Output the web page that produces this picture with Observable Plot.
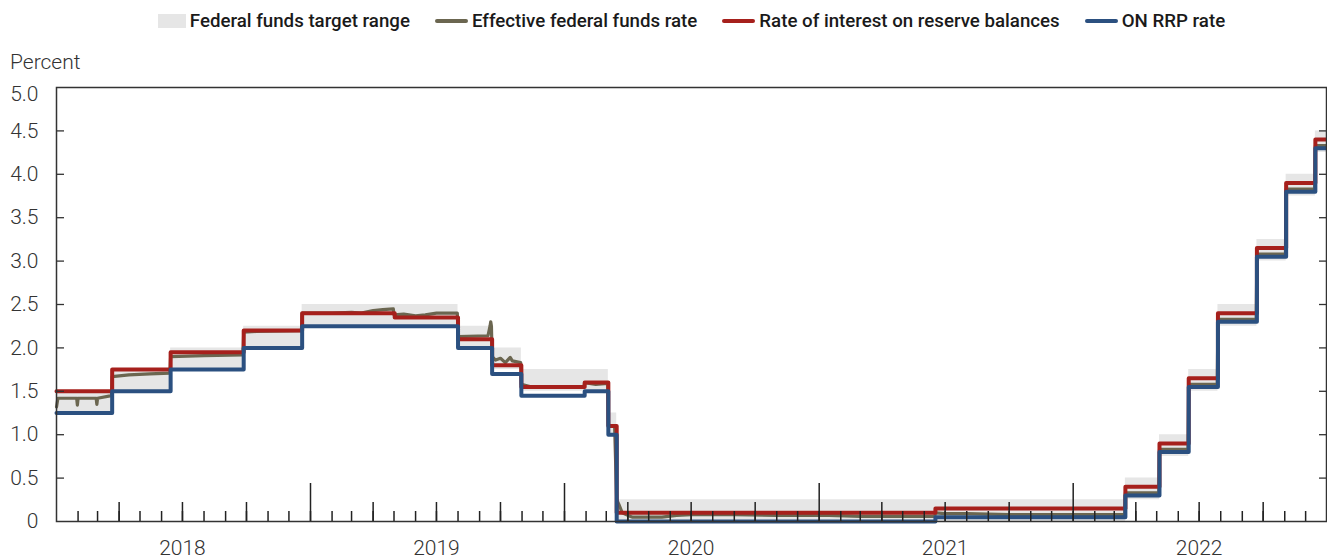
<!DOCTYPE html>
<html><head><meta charset="utf-8">
<script src="https://cdn.jsdelivr.net/npm/d3@7"></script>
<script src="https://cdn.jsdelivr.net/npm/@observablehq/plot@0.6"></script>
<style>
body{margin:0;background:#fff;font-family:Roboto,sans-serif;}
#wrap{position:relative;width:1327px;height:560px;overflow:hidden;}
#legend{height:42px;display:flex;justify-content:center;align-items:center;padding-left:56px;gap:25px;font-size:18.7px;font-weight:500;color:#1a1a1a;}
.item{display:flex;align-items:center;gap:4px;}
.sw-rect{width:28px;height:14px;background:#e6e6e6;}
.sw-line{width:33px;height:4px;border-radius:2px;}
#ylabel{position:absolute;left:10px;top:51px;font-size:21px;font-weight:300;color:#333;line-height:22px;}
#chart svg{display:block;overflow:visible;}
</style></head>
<body>
<div id="wrap">
  <div id="legend"></div>
  <div id="ylabel">Percent</div>
  <div id="chart"></div>
</div>
<script>
// ---- Data ----
const seriesNames = ["Federal funds target range","Effective federal funds rate","Rate of interest on reserve balances","ON RRP rate"];
const seriesColors = ["#e6e6e6","#6b6650","#a6201c","#2b5080"];

const rangeDates = ["2018-01-01","2018-03-22","2018-06-14","2018-09-27","2018-12-20","2019-08-01","2019-09-19","2019-10-31","2020-03-04","2020-03-16","2022-03-17","2022-05-05","2022-06-16","2022-07-28","2022-09-22","2022-11-03","2022-12-15","2022-12-31"];
const rangeLower = [1.25,1.5,1.75,2.0,2.25,2.0,1.75,1.5,1.0,0,0.25,0.75,1.5,2.25,3.0,3.75,4.25,4.25];
const rangeUpper = [1.5,1.75,2.0,2.25,2.5,2.25,2.0,1.75,1.25,0.25,0.5,1.0,1.75,2.5,3.25,4.0,4.5,4.5];

const iorbDates = ["2018-01-01","2018-03-22","2018-06-14","2018-09-27","2018-12-20","2019-05-02","2019-08-01","2019-09-19","2019-10-31","2020-01-30","2020-03-04","2020-03-16","2021-06-17","2022-03-17","2022-05-05","2022-06-16","2022-07-28","2022-09-22","2022-11-03","2022-12-15","2022-12-31"];
const iorbValues = [1.5,1.75,1.95,2.2,2.4,2.35,2.1,1.8,1.55,1.6,1.1,0.1,0.15,0.4,0.9,1.65,2.4,3.15,3.9,4.4,4.4];

const rrpDates = ["2018-01-01","2018-03-22","2018-06-14","2018-09-27","2018-12-20","2019-08-01","2019-09-19","2019-10-31","2020-01-30","2020-03-04","2020-03-16","2021-06-17","2022-03-17","2022-05-05","2022-06-16","2022-07-28","2022-09-22","2022-11-03","2022-12-15","2022-12-31"];
const rrpValues = [1.25,1.5,1.75,2.0,2.25,2.0,1.7,1.45,1.5,1.0,0,0.05,0.3,0.8,1.55,2.3,3.05,3.8,4.3,4.3];

const effrDates = ["2018-01-01","2018-01-03","2018-01-30","2018-01-31","2018-02-01","2018-02-27","2018-02-28","2018-03-01","2018-03-21","2018-03-22","2018-04-15","2018-05-15","2018-06-13","2018-06-14","2018-08-01","2018-09-26","2018-09-27","2018-10-15","2018-12-19","2018-12-20","2019-02-01","2019-03-01","2019-03-15","2019-04-01","2019-04-15","2019-04-30","2019-05-01","2019-05-15","2019-06-01","2019-06-15","2019-07-01","2019-07-15","2019-07-31","2019-08-01","2019-09-13","2019-09-16","2019-09-17","2019-09-18","2019-09-19","2019-09-24","2019-10-01","2019-10-08","2019-10-15","2019-10-18","2019-10-30","2019-10-31","2019-11-15","2019-12-31","2020-01-29","2020-01-30","2020-02-15","2020-03-03","2020-03-04","2020-03-13","2020-03-16","2020-03-19","2020-03-24","2020-04-01","2020-04-08","2020-05-01","2020-05-20","2020-06-10","2020-07-01","2020-09-01","2020-11-01","2020-12-15","2021-01-15","2021-03-01","2021-04-01","2021-05-01","2021-06-16","2021-06-17","2021-07-01","2021-08-01","2021-10-01","2021-12-01","2022-03-16","2022-03-17","2022-05-04","2022-05-05","2022-06-15","2022-06-16","2022-07-27","2022-07-28","2022-09-21","2022-09-22","2022-11-02","2022-11-03","2022-12-14","2022-12-15","2022-12-31"];
const effrValues = [1.32,1.42,1.42,1.34,1.42,1.42,1.35,1.42,1.45,1.67,1.69,1.70,1.71,1.90,1.91,1.92,2.18,2.19,2.20,2.40,2.40,2.41,2.40,2.43,2.44,2.45,2.38,2.39,2.37,2.38,2.40,2.40,2.40,2.13,2.14,2.25,2.30,2.25,1.90,1.86,1.88,1.83,1.89,1.85,1.83,1.58,1.55,1.55,1.55,1.60,1.58,1.59,1.10,1.10,0.25,0.20,0.10,0.07,0.05,0.05,0.05,0.07,0.08,0.08,0.07,0.07,0.07,0.06,0.06,0.06,0.06,0.10,0.09,0.09,0.08,0.08,0.08,0.33,0.33,0.83,0.83,1.58,1.58,2.33,2.33,3.08,3.08,3.83,3.83,4.33,4.33];

const yLabelTicks = [0,0.5,1.0,1.5,2.0,2.5,3.0,3.5,4.0,4.5];
const yTopTick = [5.0];
const yInnerTicks = [0.5,1.0,1.5,2.0,2.5,3.0,3.5,4.0,4.5];
const yearLabels = ["2018","2019","2020","2021","2022"];

// ---- Build tables ----
const D = s => new Date(s + "T00:00:00Z");
const band = rangeDates.map((d,i) => ({date: D(d), lo: rangeLower[i], hi: rangeUpper[i]}));
const effr = effrDates.map((d,i) => ({date: D(d), v: effrValues[i]}));
const iorb = iorbDates.map((d,i) => ({date: D(d), v: iorbValues[i]}));
const rrp = rrpDates.map((d,i) => ({date: D(d), v: rrpValues[i]}));

const months = d3.utcMonth.range(D("2018-02-01"), D("2023-01-01"));
const quarters = months.filter(d => d.getUTCMonth() % 3 === 0 && d.getUTCMonth() !== 0);
const years = months.filter(d => d.getUTCMonth() === 0);
const yearMid = yearLabels.map(y => D(y + "-07-01"));

// ---- Legend ----
const legend = document.getElementById("legend");
seriesNames.forEach((name, i) => {
  const item = document.createElement("div");
  item.className = "item";
  const sw = document.createElement("div");
  sw.className = i === 0 ? "sw-rect" : "sw-line";
  sw.style.background = seriesColors[i];
  const tx = document.createElement("span");
  tx.textContent = name;
  item.appendChild(sw); item.appendChild(tx);
  legend.appendChild(item);
});

// ---- Chart ----
const frameColor = "#333";
const fmt = d => d === 0 ? "0" : d.toFixed(1);
const plot = Plot.plot({
  width: 1327, height: 518,
  marginTop: 45, marginBottom: 39, marginLeft: 56, marginRight: 1,
  style: {fontFamily: "Roboto, sans-serif", fontSize: "21px", fontWeight: 300, color: "#333", background: "#fff", overflow: "visible"},
  x: {type: "utc", domain: [D("2018-01-01"), D("2022-12-31")]},
  y: {domain: [0, 5]},
  marks: [
    Plot.areaY(band, {x: "date", y1: "lo", y2: "hi", curve: "step-after", fill: seriesColors[0]}),
    Plot.line(effr, {x: "date", y: "v", stroke: seriesColors[1], strokeWidth: 3.2, strokeLinejoin: "round"}),
    Plot.line(iorb, {x: "date", y: "v", curve: "step-after", stroke: seriesColors[2], strokeWidth: 4, strokeLinejoin: "round"}),
    Plot.line(rrp, {x: "date", y: "v", curve: "step-after", stroke: seriesColors[3], strokeWidth: 4, strokeLinejoin: "round"}),
    Plot.axisY({ticks: yLabelTicks, tickSize: 0, tickPadding: 18, tickFormat: fmt, label: null}),
    Plot.axisY({ticks: yTopTick, tickSize: 0, tickPadding: 18, dy: 7, tickFormat: fmt, label: null}),
    Plot.axisY({ticks: yInnerTicks, tickSize: 8, dx: 8, tickFormat: () => "", label: null, stroke: frameColor, strokeWidth: 1.3}),
    Plot.axisY({anchor: "right", ticks: yInnerTicks, tickSize: 8, dx: -8, tickFormat: () => "", label: null, stroke: frameColor, strokeWidth: 1.3}),
    Plot.axisX({ticks: months, tickSize: 10, dy: -10, tickFormat: () => "", label: null, stroke: "#222", strokeWidth: 1.5}),
    Plot.axisX({ticks: quarters, tickSize: 19, dy: -19, tickFormat: () => "", label: null, stroke: "#222", strokeWidth: 1.5}),
    Plot.axisX({ticks: years, tickSize: 38, dy: -38, tickFormat: () => "", label: null, stroke: "#222", strokeWidth: 1.5}),
    Plot.axisX({ticks: yearMid, tickSize: 0, tickPadding: 19, tickFormat: d => String(d.getUTCFullYear()), label: null}),
    Plot.frame({stroke: frameColor, strokeWidth: 1.5})
  ]
});
document.getElementById("chart").appendChild(plot);
</script>
</body></html>
